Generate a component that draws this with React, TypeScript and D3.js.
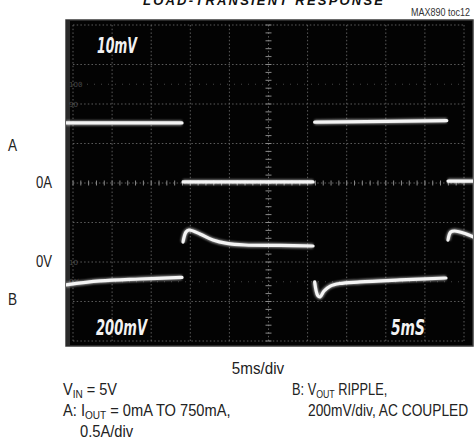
import React from "react";
import * as d3 from "d3";

// time in ms (5 ms/div), trace A in amps (0.5 A/div), trace B in mV (200 mV/div)
const traceA: [number, number][][] = [
  [[-0.9, 0.76], [13.94, 0.76]],
  [[14.07, 0.013], [30.7, 0.013]],
  [[30.9, 0.77], [40, 0.78], [47.8, 0.79]],
  [[47.95, 0.025], [51.2, 0.025]],
];
const traceB: [number, number][][] = [
  [[-0.9, -116], [3.45, -96], [8.57, -86], [13.94, -78]],
  [[14.07, 101], [14.45, 152], [14.83, 162], [16.24, 142], [17.9, 111], [19.7, 94], [22.0, 86], [26.5, 84], [30.7, 81]],
  [[30.9, -101], [31.3, -170], [31.6, -177], [32.1, -147], [32.9, -122], [34.1, -109], [36.7, -101], [41.8, -91], [47.7, -81]],
  [[47.95, 111], [48.3, 152], [48.8, 157], [49.9, 147], [51.2, 127]],
];
const refLabels = [
  { text: "100", div: 2.5 },
  { text: "90", div: 2.0 },
  { text: "10", div: -2.0 },
  { text: "0%", div: -2.5 },
];
const xDivs = d3.range(0, 11);
const yDivs = d3.range(-4, 5);

const W = 476, H = 442;
const SX0 = 66, SX1 = 473, SY0 = 20, SY1 = 346;

function T({ x, y, sx = 0.9, anchor = "start", children }: any) {
  return (
    <g transform={`translate(${x},${y}) scale(${sx},1)`}>
      <text x={0} y={0} textAnchor={anchor}>{children}</text>
    </g>
  );
}

export default function App() {
  const x = d3.scaleLinear().domain([0, 50]).range([73, 464]);
  const y = d3.scaleLinear().domain([-4, 4]).range([341, 25]);
  const ampToDiv = (a: number) => a / 0.5;
  const mvToDiv = (mv: number) => -2 + mv / 200;
  const lineA = d3.line<[number, number]>().x(d => x(d[0])).y(d => y(ampToDiv(d[1]))).curve(d3.curveMonotoneX);
  const lineB = d3.line<[number, number]>().x(d => x(d[0])).y(d => y(mvToDiv(d[1]))).curve(d3.curveCatmullRom);
  const sans = "'Liberation Sans', Arial, Helvetica, sans-serif";
  const minor = d3.range(-20, 21).map(i => i / 5);
  const minorX = d3.range(0, 51).map(i => i / 5);
  const cx = x(25), cy = y(0);

  return (
    <svg width={W} height={H} style={{ position: "absolute", left: 0, top: 0, background: "#fff" }}>
      <defs>
        <clipPath id="scr"><rect x={SX0} y={SY0} width={SX1 - SX0} height={SY1 - SY0} /></clipPath>
        <filter id="glow" x="-10%" y="-10%" width="120%" height="120%">
          <feGaussianBlur stdDeviation="1.2" />
        </filter>
      </defs>
      <text x={263} y={5} textAnchor="middle" fontFamily={sans} fontWeight="bold" fontStyle="italic" fontSize={13} textLength={240} fill="#111">LOAD-TRANSIENT RESPONSE</text>
      <text x={470} y={16} textAnchor="end" fontFamily={sans} fontSize={10.5} textLength={59} lengthAdjust="spacingAndGlyphs" fill="#333">MAX890 toc12</text>

      <rect x={SX0} y={SY0} width={SX1 - SX0} height={SY1 - SY0} fill="#030303" stroke="#3a3a3a" strokeWidth={1.5} />
      <rect x={SX0} y={SY0} width={4} height={SY1 - SY0} fill="#2a2a2a" />
      <g clipPath="url(#scr)">
        {xDivs.map(d => (
          <line key={"vx" + d} x1={x(d * 5)} x2={x(d * 5)} y1={y(-4)} y2={y(4)} stroke="#666" strokeWidth={0.9} strokeDasharray="1.5 2.2" />
        ))}
        {yDivs.map(d => (
          <line key={"hy" + d} x1={x(0)} x2={x(50)} y1={y(d)} y2={y(d)} stroke="#666" strokeWidth={0.9} strokeDasharray="1.5 2.2" />
        ))}
        {[2.5, -2.5].map(d => (
          <line key={"r" + d} x1={x(0)} x2={x(50)} y1={y(d)} y2={y(d)} stroke="#444" strokeWidth={1} strokeDasharray="1 6" />
        ))}
        {minor.map(m => (
          <line key={"mv" + m} x1={cx - 3} x2={cx + 3} y1={y(m)} y2={y(m)} stroke="#8a8a8a" strokeWidth={1} />
        ))}
        {minorX.map(m => (
          <line key={"mh" + m} x1={x(m * 5)} x2={x(m * 5)} y1={cy - 2.5} y2={cy + 2.5} stroke="#8a8a8a" strokeWidth={1} />
        ))}
        {refLabels.map(r => (
          <text key={r.text} x={69} y={y(r.div) + 2.5} fontSize={7} fontFamily="'DejaVu Sans', sans-serif" fill="#4a4a4a">{r.text}</text>
        ))}
        <g filter="url(#glow)" opacity={0.55}>
          {traceA.map((s, i) => <path key={"ga" + i} d={lineA(s)!} fill="none" stroke="#fff" strokeWidth={5} />)}
          {traceB.map((s, i) => <path key={"gb" + i} d={lineB(s)!} fill="none" stroke="#fff" strokeWidth={5} />)}
        </g>
        {traceA.map((s, i) => <path key={"a" + i} d={lineA(s)!} fill="none" stroke="#f4f4f4" strokeWidth={3.2} strokeLinecap="round" />)}
        {traceB.map((s, i) => <path key={"b" + i} d={lineB(s)!} fill="none" stroke="#f4f4f4" strokeWidth={3.2} strokeLinecap="round" />)}
        <g fontFamily="'DejaVu Sans', sans-serif" fontWeight="bold" fontStyle="italic" fill="#f2f2f2" fontSize={21}>
          <text x={97} y={53} textLength={40} lengthAdjust="spacingAndGlyphs">10mV</text>
          <text x={96} y={335} textLength={51} lengthAdjust="spacingAndGlyphs">200mV</text>
          <text x={391} y={335} textLength={34} lengthAdjust="spacingAndGlyphs">5mS</text>
        </g>
      </g>

      <g fontFamily={sans} fontSize={16} fill="#222">
        <T x={8} y={151} sx={0.85}>A</T>
        <T x={36} y={188} sx={0.82}>0A</T>
        <T x={36} y={267} sx={0.82}>0V</T>
        <T x={8} y={305} sx={0.85}>B</T>
        <T x={258} y={374} sx={0.95} anchor="middle">5ms/div</T>
        <T x={63} y={395} sx={0.91}>V<tspan fontSize={11} dy={3}>IN</tspan><tspan dy={-3}> = 5V</tspan></T>
        <T x={63} y={416} sx={0.915}>A: I<tspan fontSize={11} dy={3}>OUT</tspan><tspan dy={-3}> = 0mA TO 750mA,</tspan></T>
        <T x={80} y={437} sx={0.92}>0.5A/div</T>
        <T x={292} y={395} sx={0.8}>B: V<tspan fontSize={11} dy={3}>OUT</tspan><tspan dy={-3}> RIPPLE,</tspan></T>
        <T x={308} y={416} sx={0.86}>200mV/div, AC COUPLED</T>
      </g>
    </svg>
  );
}
